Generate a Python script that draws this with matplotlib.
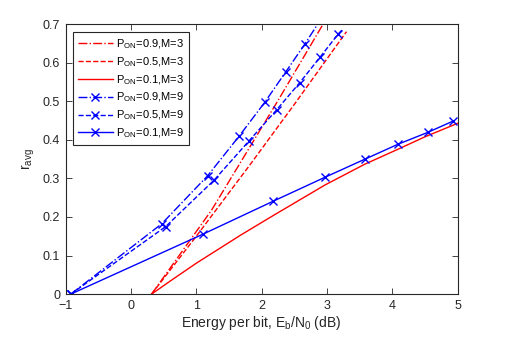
import matplotlib
matplotlib.use("Agg")
import matplotlib.pyplot as plt

plt.rcParams['font.family'] = ['Liberation Sans', 'DejaVu Sans']
plt.rcParams['mathtext.fontset'] = 'custom'
plt.rcParams['mathtext.rm'] = 'Liberation Sans'
plt.rcParams['mathtext.it'] = 'Liberation Sans'

# M=3 curves (no markers), Eb/N0 in dB vs r_avg
x_p09_m3 = [0.316, 1.235, 2.254, 2.94]
y_p09_m3 = [0.0, 0.218, 0.503, 0.70]
x_p05_m3 = [0.316, 1.0, 1.82, 2.5, 3.30]
y_p05_m3 = [0.0, 0.150, 0.335, 0.492, 0.681]
x_p01_m3 = [0.316, 0.62, 1.0, 1.67, 2.2, 2.97, 3.58, 4.09, 4.5, 5.0]
y_p01_m3 = [0.0, 0.036, 0.080, 0.152, 0.206, 0.283, 0.337, 0.376, 0.408, 0.443]

# M=9 curves (markers at every point)
x_p09_m9 = [-0.92, 0.469, 1.174, 1.657, 2.05, 2.372, 2.663, 2.857]
y_p09_m9 = [0.0, 0.182, 0.307, 0.410, 0.498, 0.577, 0.649, 0.70]
x_p05_m9 = [-0.92, 0.531, 1.275, 1.810, 2.230, 2.586, 2.892, 3.173, 3.23]
y_p05_m9 = [0.0, 0.175, 0.296, 0.398, 0.478, 0.549, 0.614, 0.675, 0.685]
x_p01_m9 = [-0.92, 1.097, 2.178, 2.969, 3.581, 4.091, 4.550, 4.933]
y_p01_m9 = [0.0, 0.155, 0.241, 0.303, 0.350, 0.389, 0.420, 0.449]

labels = [r'P$_{\rm ON}$=0.9,M=3', r'P$_{\rm ON}$=0.5,M=3', r'P$_{\rm ON}$=0.1,M=3',
          r'P$_{\rm ON}$=0.9,M=9', r'P$_{\rm ON}$=0.5,M=9', r'P$_{\rm ON}$=0.1,M=9']

fig = plt.figure(figsize=(5.05, 3.38), dpi=100)
ax = fig.add_axes([0.130, 0.130, 0.776, 0.798])

lw = 1.0
ax.plot(x_p09_m3, y_p09_m3, color='red', ls='-.', lw=lw, label=labels[0])
ax.plot(x_p05_m3, y_p05_m3, color='red', ls='--', lw=lw, label=labels[1])
ax.plot(x_p01_m3, y_p01_m3, color='red', ls='-', lw=lw, label=labels[2])
ax.plot(x_p09_m9, y_p09_m9, color='blue', ls='-.', lw=lw, marker='x', ms=6,
        markevery=list(range(len(x_p09_m9) - 1)), label=labels[3])
ax.plot(x_p05_m9, y_p05_m9, color='blue', ls='--', lw=lw, marker='x', ms=6,
        markevery=list(range(len(x_p05_m9) - 1)), label=labels[4])
ax.plot(x_p01_m9, y_p01_m9, color='blue', ls='-', lw=lw, marker='x', ms=6,
        label=labels[5])

ax.set_xlim(-1, 5)
ax.set_ylim(0, 0.7)
ax.set_xticks(range(-1, 6))
ax.set_yticks([0, 0.1, 0.2, 0.3, 0.4, 0.5, 0.6, 0.7])
ax.set_yticklabels(['0', '0.1', '0.2', '0.3', '0.4', '0.5', '0.6', '0.7'])

# MATLAB-like box with inward ticks on all sides
axcol = '0.15'
for s in ax.spines.values():
    s.set_color(axcol)
    s.set_linewidth(0.8)
ax.tick_params(direction='in', top=True, right=True, length=4, width=0.6,
               color=axcol, labelsize=9, labelcolor='0.15', pad=4)

ax.set_xlabel(r'Energy per bit, E$_{\rm b}$/N$_0$ (dB)', fontsize=10, color='0.15', labelpad=2)
ax.set_ylabel(r'r$_{\rm avg}$', fontsize=10, color='0.15', labelpad=4)

leg = ax.legend(loc='upper left', bbox_to_anchor=(0.018, 0.970), borderaxespad=0,
                fontsize=8, fancybox=False, framealpha=1, edgecolor='0.15',
                handlelength=3.2, handletextpad=0.25, labelspacing=0.38,
                borderpad=0.45)
leg.get_frame().set_linewidth(0.8)

plt.savefig('out.png', dpi=100)
